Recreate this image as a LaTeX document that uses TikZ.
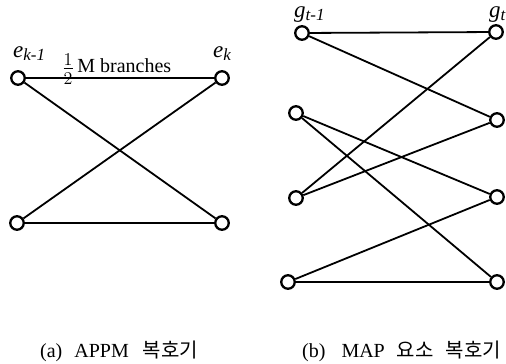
\documentclass[tikz,border=0pt]{standalone}
\usepackage{fontspec}
\setmainfont{Liberation Serif}
\newfontfamily\kofont{Noto Sans CJK KR}
\begin{document}
\begin{tikzpicture}[x=1pt,y=-1pt,
  st/.style={circle,draw,line width=2.3pt,minimum size=13.5pt,inner sep=0pt,fill=white},
  br/.style={line width=1.8pt},
  lab/.style={inner sep=0pt,font=\fontsize{23}{25}\selectfont\itshape},
  captext/.style={inner sep=0pt,font=\fontsize{20}{22}\selectfont}]
\useasboundingbox (0,0) rectangle (506,364);
% (a)
\node[st] (a1) at (18,78) {};
\node[st] (a2) at (222,78) {};
\node[st] (a3) at (17,223) {};
\node[st] (a4) at (222,223) {};
\draw[br] (a1) -- (a2);
\draw[br] (a1) -- (a4);
\draw[br] (a3) -- (a2);
\draw[br] (a3) -- (a4);
\node[lab,anchor=base west] (ek1) at (13,57) {e\raisebox{-0.3ex}{\fontsize{17}{18}\selectfont k-1}};
\node[lab,anchor=base west] (ek) at (213,57) {e\raisebox{-0.3ex}{\fontsize{17}{18}\selectfont k}};
\node[inner sep=0pt,anchor=base west,font=\fontsize{20}{22}\selectfont] (mb) at (62,72) {\raisebox{-0.35ex}{\scalebox{1.25}{$\frac{1}{2}$}}\,M branches};
% (b)
\node[st] (l1) at (302,33) {};
\node[st] (r1) at (496,32) {};
\node[st] (l2) at (296,113) {};
\node[st] (r2) at (497,120) {};
\node[st] (l3) at (296,198) {};
\node[st] (r3) at (497,197) {};
\node[st] (l4) at (288,282) {};
\node[st] (r4) at (497,282) {};
\draw[br] (l1) -- (r1);
\draw[br] (l1) -- (r2);
\draw[br] (l2) -- (r3);
\draw[br] (l2) -- (r4);
\draw[br] (l3) -- (r1);
\draw[br] (l3) -- (r2);
\draw[br] (l4) -- (r3);
\draw[br] (l4) -- (r4);
\node[lab,anchor=base west] (gt1) at (294,17) {g\raisebox{-0.3ex}{\fontsize{17}{18}\selectfont t-1}};
\node[lab,anchor=base west] (gt) at (489,17) {g\raisebox{-0.3ex}{\fontsize{17}{18}\selectfont t}};
% captions
\node[captext,anchor=base west] (ca) at (40,357) {(a)\hspace{0.6em}APPM\hspace{0.7em}{\kofont 복호기}};
\node[captext,anchor=base west] (cb) at (302,357) {(b)\hspace{0.8em}MAP\hspace{0.6em}{\kofont 요소}\hspace{0.6em}{\kofont 복호기}};
\end{tikzpicture}
\end{document}
